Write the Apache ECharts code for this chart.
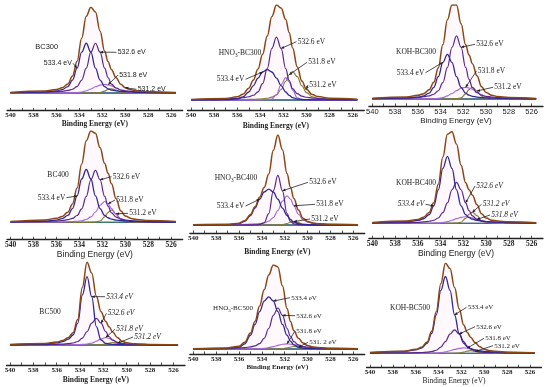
<!DOCTYPE html>
<html><head><meta charset="utf-8">
<script src="https://cdn.jsdelivr.net/npm/echarts@6/dist/echarts.min.js"></script>
<style>html,body{margin:0;padding:0;background:#fff}#c{width:550px;height:387px}</style>
</head><body><div id="c"></div>
<script>
// ---- data ----
const energy = [540, 537, 536, 535.5, 535, 534.6, 534.2, 533.8, 533.4, 533, 532.6, 532.2, 531.8, 531.5, 531.2, 530.8, 530.4, 530, 529.5, 529, 528, 525.6];
const tickLabels = [540, 538, 536, 534, 532, 530, 528, 526];
const tickMarks = [540, 539, 538, 537, 536, 535, 534, 533, 532, 531, 530, 529, 528, 527, 526];
const baselineE = [540, 525.6];
const baselineV = [0, 0];
const shirleyE = [534.6, 530.0];
const shirleyV = [0, 0];
const sampleNames = [['BC300'], ['HNO', '3', '-BC300'], ['KOH-BC300'], ['BC400'], ['HNO', '3', '-BC400'], ['KOH-BC400'], ['BC500'], ['HNO', '3', '-BC500'], ['KOH-BC500']];

const bc300_env   = [0.7, 2.3, 4.1, 6.0, 10.6, 19.8, 37.0, 63.9, 89.6, 99.9, 94.3, 72.4, 48.7, 36.5, 27.2, 17.7, 10.2, 6.1, 3.7, 2.6, 1.6, 0.6];
const bc300_5334  = [0.4, 1.4, 2.5, 3.9, 7.5, 15.1, 29, 47.6, 58, 47.6, 29, 15.1, 7.5, 4.9, 3.5, 2.5, 1.9, 1.5, 1.2, 0.9, 0.6, 0.3];
const bc300_5326  = [0.3, 0.9, 1.5, 2.0, 3.0, 4.4, 7.5, 15.1, 29, 47.6, 58, 47.6, 29, 18, 10.4, 5.8, 3.5, 2.5, 1.8, 1.4, 0.9, 0.3];
const bc300_5318  = [0, 0, 0.1, 0.1, 0.1, 0.3, 0.5, 1.2, 2.6, 4.7, 7.2, 9.2, 10, 9.5, 8.3, 5.9, 3.6, 1.9, 0.6, 0.3, 0.1, 0];
const bc300_5312  = [0, 0, 0, 0, 0, 0, 0, 0, 0, 0, 0.1, 0.5, 2.2, 4.1, 5, 3.5, 1.2, 0.2, 0.1, 0, 0, 0];

const hno3bc300_env  = [0.6, 1.6, 3.1, 5.6, 11.7, 19.6, 30.6, 45.0, 63.0, 82.2, 93.6, 90.6, 79.4, 66.5, 51.3, 32.5, 18.7, 10.5, 5.3, 3.4, 1.8, 0.8];
const hno3bc300_5334 = [0.1, 0.3, 1.1, 3.0, 7.9, 14.2, 21.5, 27.6, 30, 27.6, 21.5, 14.2, 7.9, 4.6, 2.4, 1.1, 0.5, 0.3, 0.2, 0.2, 0.1, 0.1];
const hno3bc300_5326 = [0.4, 1.0, 1.6, 2.2, 3.2, 4.7, 8.1, 16.1, 31, 50.8, 62, 50.8, 31, 19.2, 11.2, 6.2, 3.8, 2.7, 1.9, 1.5, 0.9, 0.4];
const hno3bc300_5318 = [0, 0, 0, 0, 0, 0, 0.1, 0.1, 0.3, 1.0, 5.1, 15.2, 22, 17.8, 9.7, 2.2, 0.4, 0.2, 0.1, 0, 0, 0];
const hno3bc300_5312 = [0.1, 0.3, 0.4, 0.4, 0.6, 0.7, 0.9, 1.2, 1.7, 2.8, 5.0, 10.4, 18.5, 24.9, 28, 23.0, 14, 7.3, 3.1, 1.7, 0.8, 0.3];

const kohbc300_env  = [0.7, 2.1, 3.8, 5.5, 9.5, 17.2, 32.1, 56.1, 81.7, 96.8, 96.8, 77.5, 55.8, 45.2, 36.4, 23.9, 12.6, 6.7, 3.8, 2.6, 1.6, 0.6];
const kohbc300_5334 = [0.3, 1.1, 2.0, 3.1, 6.0, 12.0, 23.0, 37.7, 46, 37.7, 23.0, 12.0, 6.0, 3.9, 2.8, 2.0, 1.5, 1.2, 0.9, 0.7, 0.5, 0.2];
const kohbc300_5326 = [0.4, 1.0, 1.7, 2.3, 3.3, 4.9, 8.5, 16.9, 32.5, 53.3, 65, 53.3, 32.5, 20.2, 11.7, 6.5, 4.0, 2.8, 2.0, 1.6, 1.0, 0.4];
const kohbc300_5318 = [0, 0, 0.1, 0.1, 0.2, 0.3, 0.6, 1.5, 3.2, 5.7, 8.6, 11.0, 12, 11.4, 9.9, 7.1, 4.3, 2.2, 0.8, 0.3, 0.1, 0];
const kohbc300_5312 = [0, 0, 0, 0, 0, 0, 0, 0, 0, 0.1, 0.2, 1.2, 5.3, 9.7, 12, 8.3, 2.8, 0.5, 0.1, 0, 0, 0];

const bc400_env   = [0.8, 2.5, 4.2, 6.2, 10.7, 19.5, 36.3, 61.9, 86.5, 96.8, 94.3, 79.0, 62.5, 52.0, 40.8, 25.0, 12.2, 6.7, 4.1, 3.1, 1.9, 0.8];
const bc400_5334  = [0.4, 1.3, 2.4, 3.8, 7.3, 14.6, 28, 45.9, 56, 45.9, 28, 14.6, 7.3, 4.8, 3.4, 2.4, 1.8, 1.5, 1.1, 0.9, 0.6, 0.3];
const bc400_5326  = [0.3, 0.9, 1.4, 1.9, 2.8, 4.1, 7.2, 14.3, 27.5, 45.1, 55, 45.1, 27.5, 17.1, 9.9, 5.5, 3.4, 2.4, 1.7, 1.3, 0.8, 0.3];
const bc400_5318  = [0.1, 0.3, 0.4, 0.5, 0.6, 0.8, 1.1, 1.7, 2.9, 5.7, 11, 18, 22, 19.6, 14.5, 8.1, 4.0, 2.2, 1.2, 0.8, 0.5, 0.2];
const bc400_5312  = [0, 0, 0, 0, 0, 0, 0, 0, 0.1, 0.1, 0.3, 1.3, 5.7, 10.5, 13, 9.0, 3.0, 0.6, 0.1, 0.1, 0, 0];

const hno3bc400_env  = [0.3, 0.8, 2.1, 5.0, 12.3, 21.4, 32.5, 43.8, 59.7, 87.4, 105.2, 88.1, 60.2, 44.0, 31.0, 17.4, 8.0, 4.2, 2.2, 1.5, 0.8, 0.4];
const hno3bc400_5334 = [0.1, 0.4, 1.5, 4.2, 11.1, 19.8, 30.1, 38.6, 42, 38.6, 30.1, 19.8, 11.1, 6.4, 3.4, 1.5, 0.8, 0.5, 0.3, 0.2, 0.1, 0.1];
const hno3bc400_5326 = [0, 0, 0, 0.1, 0.2, 0.3, 0.7, 2.6, 13.3, 40, 58, 40, 13.3, 4.1, 1.2, 0.5, 0.2, 0.1, 0, 0, 0, 0];
const hno3bc400_5318 = [0.2, 0.4, 0.6, 0.7, 1.0, 1.3, 1.7, 2.6, 4.4, 8.8, 17, 27.9, 34, 30.3, 22.4, 12.6, 6.1, 3.4, 1.9, 1.3, 0.7, 0.3];
const hno3bc400_5312 = [0, 0, 0, 0, 0, 0, 0, 0, 0, 0, 0.1, 0.4, 1.8, 3.2, 4, 2.8, 0.9, 0.2, 0, 0, 0, 0];

const kohbc400_env  = [0.8, 2.4, 4.2, 6.5, 11.7, 22.2, 42.1, 71.3, 95.8, 98.5, 85.2, 62.4, 43.7, 36.1, 30.1, 20.0, 10.4, 5.6, 3.3, 2.5, 1.6, 0.7];
const kohbc400_5334 = [0.5, 1.7, 3.1, 4.9, 9.4, 18.7, 36, 59, 72, 59, 36, 18.7, 9.4, 6.1, 4.4, 3.1, 2.4, 1.9, 1.4, 1.2, 0.8, 0.4];
const kohbc400_5326 = [0.3, 0.7, 1.1, 1.5, 2.2, 3.3, 5.7, 11.4, 22, 36.1, 44, 36.1, 22, 13.6, 7.9, 4.4, 2.7, 1.9, 1.4, 1.1, 0.7, 0.3];
const kohbc400_5318 = [0, 0, 0, 0.1, 0.1, 0.2, 0.4, 0.9, 1.8, 3.3, 5.0, 6.4, 7, 6.7, 5.8, 4.2, 2.5, 1.3, 0.4, 0.2, 0.1, 0];
const kohbc400_5312 = [0, 0, 0, 0, 0, 0, 0, 0, 0, 0.1, 0.2, 1.2, 5.3, 9.7, 12, 8.3, 2.8, 0.5, 0.1, 0, 0, 0];

const bc500_env   = [0.5, 1.8, 3.5, 5.3, 8.9, 14.7, 30.7, 69.0, 99.2, 86.5, 58.6, 39.9, 28.3, 21.5, 15.5, 9.1, 4.6, 2.6, 1.6, 1.2, 0.7, 0.3];
const bc500_5334  = [0.3, 1.2, 2.5, 4.0, 7.0, 12.0, 26, 60, 82, 58, 22, 6.0, 2.0, 1.2, 0.8, 0.5, 0.3, 0.2, 0.1, 0.1, 0, 0];
const bc500_5326  = [0.2, 0.5, 0.8, 1.1, 1.6, 2.4, 4.2, 8.3, 16, 26.2, 32, 26.2, 16, 9.9, 5.8, 3.2, 2.0, 1.4, 1.0, 0.8, 0.5, 0.2];
const bc500_5318  = [0, 0.1, 0.2, 0.2, 0.3, 0.3, 0.5, 0.7, 1.2, 2.3, 4.5, 7.4, 9, 8.0, 5.9, 3.3, 1.6, 0.9, 0.5, 0.3, 0.2, 0.1];
const bc500_5312  = [0, 0, 0, 0, 0, 0, 0, 0, 0, 0, 0.1, 0.3, 1.3, 2.4, 3, 2.1, 0.7, 0.1, 0, 0, 0, 0];

const hno3bc500_env  = [0.4, 1.3, 3.3, 7.8, 18.6, 32.6, 50.2, 69.3, 86.6, 98.3, 96.1, 74.0, 47.4, 32.3, 21.5, 12.6, 6.9, 4.0, 2.3, 1.7, 0.9, 0.4];
const hno3bc500_5334 = [0.1, 0.5, 2.1, 6.1, 16.1, 28.8, 43.7, 56.1, 61, 56.1, 43.7, 28.8, 16.1, 9.3, 4.9, 2.1, 1.1, 0.7, 0.4, 0.3, 0.2, 0.1];
const hno3bc500_5326 = [0.3, 0.8, 1.2, 1.7, 2.4, 3.6, 6.2, 12.5, 24, 39.4, 48, 39.4, 24, 14.9, 8.6, 4.8, 2.9, 2.1, 1.5, 1.2, 0.7, 0.3];
const hno3bc500_5318 = [0, 0, 0, 0, 0.1, 0.2, 0.3, 0.7, 1.6, 2.8, 4.3, 5.5, 6, 5.7, 5.0, 3.6, 2.2, 1.1, 0.4, 0.2, 0, 0];
const hno3bc500_5312 = [0, 0, 0, 0, 0, 0, 0, 0, 0, 0, 0.1, 0.3, 1.3, 2.4, 3, 2.1, 0.7, 0.1, 0, 0, 0, 0];

const kohbc500_env  = [0.8, 2.4, 4.4, 6.7, 12.5, 24.3, 46.2, 77.2, 99.6, 93.8, 72.9, 49.2, 31.4, 23.4, 17.9, 12.0, 7.3, 4.5, 2.9, 2.2, 1.3, 0.6];
const kohbc500_5334 = [0.6, 2.0, 3.7, 5.8, 11.1, 22.1, 42.5, 69.7, 85, 69.7, 42.5, 22.1, 11.1, 7.2, 5.2, 3.7, 2.8, 2.2, 1.7, 1.4, 0.9, 0.4];
const kohbc500_5326 = [0.2, 0.4, 0.7, 0.9, 1.3, 2.0, 3.4, 6.8, 13, 21.3, 26, 21.3, 13, 8.1, 4.7, 2.6, 1.6, 1.1, 0.8, 0.6, 0.4, 0.2];
const kohbc500_5318 = [0, 0, 0, 0, 0.1, 0.2, 0.3, 0.7, 1.6, 2.8, 4.3, 5.5, 6, 5.7, 5.0, 3.6, 2.2, 1.1, 0.4, 0.2, 0, 0];
const kohbc500_5312 = [0, 0, 0, 0, 0, 0, 0, 0, 0, 0, 0.1, 0.3, 1.3, 2.4, 3, 2.1, 0.7, 0.1, 0, 0, 0, 0];

// ---- layout / styles ----
const SERIF = 'Liberation Serif', SANS = 'Liberation Sans';
const panels = [
  {env: bc300_env, A: bc300_5334, B: bc300_5326, C: bc300_5318, D: bc300_5312,
   g: {x540: 10.5, k: 11.48, yTop: 7.3, yBase: 93, axisY: 110.5, nameGap: 12.5},
   tickFont: [SERIF, 'bold', 7], titleFont: [SERIF, 'bold', 7.5], noteFont: [SANS, 'normal', 7], nameFont: [SANS, 'normal', 7.5], namePos: [46.7, 46.7],
   notes: [['533.4 eV', 'A', 6, 73, 63.3, 'right'], ['532.6 eV', 'B', 11, 116.5, 52.3, 'left'], ['531.8 eV', 'C', 13, 118, 75, 'left'], ['531.2 eV', 'E', 17, 136.5, 89.3, 'left']]},
  {env: hno3bc300_env, A: hno3bc300_5334, B: hno3bc300_5326, C: hno3bc300_5318, D: hno3bc300_5312,
   g: {x540: 191, k: 11.55, yTop: 5, yBase: 100, axisY: 110, nameGap: 16},
   tickFont: [SERIF, 'bold', 7], titleFont: [SERIF, 'bold', 7.5], noteFont: [SERIF, 'normal', 7.5], nameFont: [SERIF, 'normal', 7.5], namePos: [240, 53.3],
   notes: [['532.6 eV', 'B', 11, 296.5, 41.7, 'left'], ['531.8 eV', 'D', 13, 307, 62.3, 'left'], ['533.4 eV', 'A', 7, 245.5, 79.3, 'right'], ['531.2 eV', 'E', 17, 308, 85, 'left']]},
  {env: kohbc300_env, A: kohbc300_5334, B: kohbc300_5326, C: kohbc300_5318, D: kohbc300_5312,
   g: {x540: 372.3, k: 11.38, yTop: 5, yBase: 99, axisY: 106, nameGap: 13},
   tickFont: [SANS, 'normal', 7.5], titleFont: [SANS, 'normal', 8], noteFont: [SERIF, 'normal', 7.5], nameFont: [SERIF, 'normal', 7.5], namePos: [416, 51.7],
   notes: [['532.6 eV', 'B', 11, 475, 44.3, 'left'], ['533.4 eV', 'A', 7, 425.5, 72.7, 'right'], ['531.8 eV', 'C', 12, 476.5, 71, 'left'], ['531.2 eV', 'D', 15, 493, 87.3, 'left']]},
  {env: bc400_env, A: bc400_5334, B: bc400_5326, C: bc400_5318, D: bc400_5312,
   g: {x540: 10.5, k: 11.48, yTop: 131, yBase: 222.3, axisY: 239.3, nameGap: 12.4},
   tickFont: [SERIF, 'bold', 7.5], titleFont: [SANS, 'normal', 8.5], noteFont: [SERIF, 'normal', 7.5], nameFont: [SERIF, 'normal', 7.5], namePos: [58, 175],
   notes: [['532.6 eV', 'B', 11, 111.5, 176.7, 'left'], ['533.4 eV', 'A', 6, 66.5, 197.7, 'right'], ['531.8 eV', 'C', 13, 115, 200, 'left'], ['531.2 eV', 'D', 15, 128, 213.3, 'left']]},
  {env: hno3bc400_env, A: hno3bc400_5334, B: hno3bc400_5326, C: hno3bc400_5318, D: hno3bc400_5312,
   g: {x540: 193.3, k: 11.43, yTop: 135, yBase: 225, axisY: 233, nameGap: 18.7},
   tickFont: [SERIF, 'bold', 7], titleFont: [SERIF, 'bold', 7.5], noteFont: [SERIF, 'normal', 7.5], nameFont: [SERIF, 'normal', 7.5], namePos: [236, 177.7],
   notes: [['532.6 eV', 'B', 11, 308, 182.3, 'left'], ['531.8 eV', 'C', 14, 315, 204.3, 'left'], ['533.4 eV', 'A', 6, 245.5, 206, 'right'], ['531.2 eV', 'D', 14, 310, 219, 'left']]},
  {env: kohbc400_env, A: kohbc400_5334, B: kohbc400_5326, C: kohbc400_5318, D: kohbc400_5312,
   g: {x540: 372.3, k: 11.38, yTop: 131.7, yBase: 223.3, axisY: 238.3, nameGap: 14.4},
   tickFont: [SERIF, 'bold', 7.5], titleFont: [SANS, 'normal', 8.5], noteFont: [SERIF, 'italic', 7.5], nameFont: [SERIF, 'normal', 7.5], namePos: [416, 183.3],
   notes: [['532.6 eV', 'B', 12, 475, 186, 'left'], ['533.4 eV', 'A', 5, 425.5, 204.3, 'right'], ['531.2 eV', 'D', 14, 481.5, 204.3, 'left'], ['531.8 eV', 'C', 15, 490, 215, 'left']]},
  {env: bc500_env, A: bc500_5334, B: bc500_5326, C: bc500_5318, D: bc500_5312,
   g: {x540: 10, k: 11.67, yTop: 262.3, yBase: 345, axisY: 365, nameGap: 15},
   tickFont: [SERIF, 'bold', 7], titleFont: [SERIF, 'bold', 7.5], noteFont: [SERIF, 'italic', 7.5], nameFont: [SERIF, 'normal', 7.5], namePos: [50, 311.7],
   notes: [['533.4 eV', 'A', 9, 105, 296.7, 'left'], ['532.6 eV', 'B', 11, 106.5, 313.3, 'left'], ['531.8 eV', 'C', 12, 115, 329.3, 'left'], ['531.2 eV', 'D', 15, 133, 337, 'left']]},
  {env: hno3bc500_env, A: hno3bc500_5334, B: hno3bc500_5326, C: hno3bc500_5318, D: hno3bc500_5312,
   g: {x540: 193.3, k: 11.43, yTop: 265, yBase: 349, axisY: 354, nameGap: 12.7},
   tickFont: [SERIF, 'bold', 7], titleFont: [SERIF, 'bold', 7], noteFont: [SERIF, 'normal', 7], nameFont: [SERIF, 'normal', 7], namePos: [233, 308],
   notes: [['533.4 eV', 'A', 9, 290, 297.7, 'left'], ['532.6 eV', 'B', 11, 295, 315.7, 'left'], ['531.8 eV', 'C', 12, 295, 331, 'left'], ['531. 2 eV', 'D', 15, 308, 342.3, 'left']]},
  {env: kohbc500_env, A: kohbc500_5334, B: kohbc500_5326, C: kohbc500_5318, D: kohbc500_5312,
   g: {x540: 370, k: 11.43, yTop: 263.3, yBase: 353.3, axisY: 367.3, nameGap: 13.7},
   tickFont: [SERIF, 'bold', 7], titleFont: [SERIF, 'normal', 7.5], noteFont: [SERIF, 'normal', 7], nameFont: [SERIF, 'normal', 7.5], namePos: [410, 308.3],
   notes: [['533.4 eV', 'A', 10, 466.5, 307.3, 'left'], ['532.6 eV', 'B', 11, 475, 326.7, 'left'], ['531.8 eV', 'C', 13, 484, 338.3, 'left'], ['531.2 eV', 'D', 15, 493, 345.7, 'left']]}
];

const COL = {env: '#8a4716', A: '#221f90', B: '#4b1f86', C: '#a064dc', D: '#7c7a28', base: '#2b2bd6', green: '#3b953b'};
const X_MIN = 525.0, X_MAX = 540.3;

const pairs = (xs, ys) => xs.map((x, i) => [x, ys[i]]);

const grids = [], xAxes = [], yAxes = [], series = [];
panels.forEach((p, i) => {
  const g = p.g;
  const envMax = Math.max.apply(null, p.env);
  const u = (g.yBase - g.yTop) / envMax;
  grids.push({left: g.x540 - (X_MAX - 540) * g.k, top: g.yTop,
              width: (X_MAX - X_MIN) * g.k, height: g.axisY - g.yTop, containLabel: false});
  xAxes.push({
    gridIndex: i, type: 'value', inverse: true, min: X_MIN, max: X_MAX,
    axisLine: {show: true, onZero: false, lineStyle: {color: '#222', width: 1.3}},
    axisTick: {show: true, inside: true, length: 2.5, customValues: tickMarks, lineStyle: {color: '#222', width: 0.8}},
    axisLabel: {show: true, margin: 1.5, customValues: tickLabels, fontFamily: p.tickFont[0], fontWeight: p.tickFont[1], fontSize: p.tickFont[2], color: '#222'},
    splitLine: {show: false},
    name: 'Binding Energy (eV)', nameLocation: 'middle', nameGap: g.nameGap,
    nameTextStyle: {fontFamily: p.titleFont[0], fontWeight: p.titleFont[1], fontSize: p.titleFont[2], color: '#222', verticalAlign: 'middle'}
  });
  yAxes.push({gridIndex: i, type: 'value', show: false, min: -(g.axisY - g.yBase) / u, max: envMax,
              splitLine: {show: false}});
  const common = {type: 'line', xAxisIndex: i, yAxisIndex: i, symbol: 'none', smooth: 0.4, smoothMonotone: 'x', silent: true};
  series.push(Object.assign({}, common, {data: pairs(baselineE, baselineV), smooth: false, lineStyle: {color: COL.base, width: 1.3}, z: 2}));
  series.push(Object.assign({}, common, {data: pairs(shirleyE, shirleyV), smooth: false, lineStyle: {color: COL.green, width: 1.1}, z: 3}));
  series.push(Object.assign({}, common, {data: pairs(energy, p.D), lineStyle: {color: COL.D, width: 1.1}, z: 4}));
  series.push(Object.assign({}, common, {data: pairs(energy, p.C), lineStyle: {color: COL.C, width: 1.1}, z: 5}));
  series.push(Object.assign({}, common, {data: pairs(energy, p.B), lineStyle: {color: COL.B, width: 1.2}, z: 6}));
  series.push(Object.assign({}, common, {data: pairs(energy, p.A), lineStyle: {color: COL.A, width: 1.3}, z: 7}));
  series.push(Object.assign({}, common, {data: pairs(energy, p.env), lineStyle: {color: COL.env, width: 1.5}, z: 8,
    areaStyle: {color: 'rgba(250,150,220,0.10)', origin: 0}}));
});

const chart = echarts.init(document.getElementById('c'), null, {renderer: 'canvas'});
chart.setOption({animation: false, backgroundColor: '#fff', grid: grids, xAxis: xAxes, yAxis: yAxes, series: series});

// annotations
const fontStr = f => f[1] + ' ' + f[2] + 'px "' + f[0] + '"';
const gfx = [];
panels.forEach((p, gi) => {
  const nm = sampleNames[gi];
  const nf = p.nameFont;
  if (nm.length === 1) {
    gfx.push({type: 'text', x: p.namePos[0], y: p.namePos[1], z: 100,
              style: {text: nm[0], font: fontStr(nf), fill: '#222', align: 'center', verticalAlign: 'middle'}});
  } else {
    gfx.push({type: 'text', x: p.namePos[0], y: p.namePos[1], z: 100,
              style: {text: '{a|' + nm[0] + '}{s|' + nm[1] + '}{a|' + nm[2] + '}', fill: '#222', align: 'center', verticalAlign: 'middle',
                      rich: {a: {fontFamily: nf[0], fontSize: nf[2], lineHeight: 10, verticalAlign: 'middle', fill: '#222'},
                             s: {fontFamily: nf[0], fontSize: nf[2] * 0.7, lineHeight: 10, verticalAlign: 'bottom', fill: '#222'}}}});
  }
  const ser = {A: p.A, B: p.B, C: p.C, D: p.D, E: p.env};
  p.notes.forEach(n => {
    const [txt, s, idx, ax, ay, al] = n;
    const t = chart.convertToPixel({gridIndex: gi}, [energy[idx], ser[s][idx]]);
    const tx = al === 'left' ? ax + 1.2 : ax - 1.2;
    gfx.push({type: 'text', x: tx, y: ay, z: 100,
              style: {text: txt, font: fontStr(p.noteFont), fill: '#222', align: al, verticalAlign: 'middle'}});
    gfx.push({type: 'line', z: 100, shape: {x1: ax, y1: ay, x2: t[0], y2: t[1]}, style: {stroke: '#222', lineWidth: 0.8}});
    const dx = t[0] - ax, dy = t[1] - ay, L = Math.sqrt(dx * dx + dy * dy) || 1;
    const ux = dx / L, uy = dy / L, h = 3, w = 1.4;
    const bx = t[0] - ux * h, by = t[1] - uy * h;
    gfx.push({type: 'polygon', z: 100, shape: {points: [[t[0], t[1]], [bx - uy * w, by + ux * w], [bx + uy * w, by - ux * w]]},
              style: {fill: '#222'}});
  });
});
chart.setOption({graphic: gfx});
</script>
</body></html>
